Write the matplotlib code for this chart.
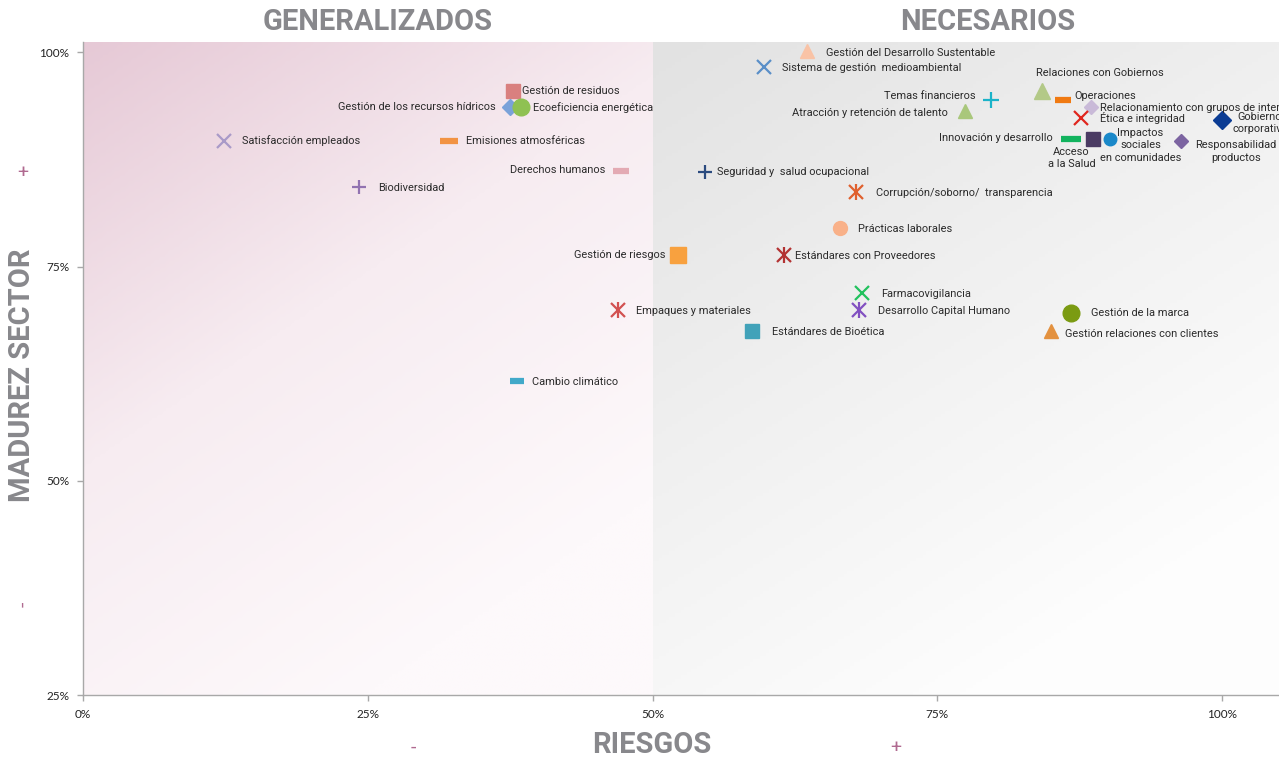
import numpy as np
import matplotlib
matplotlib.use("Agg")
import matplotlib.pyplot as plt
from matplotlib.colors import LinearSegmentedColormap

plt.rcParams['font.family'] = ['Roboto', 'DejaVu Sans']

# ---------------- data ----------------
labels = [
    "Gestión del Desarrollo Sustentable", "Sistema de gestión  medioambiental",
    "Relaciones con Gobiernos", "Temas financieros", "Operaciones",
    "Relacionamiento con grupos de interés", "Atracción y retención de talento",
    "Ética e integridad", "Gobierno\ncorporativo", "Innovación y desarrollo",
    "Acceso\na la Salud", "Impactos\nsociales\nen comunidades",
    "Responsabilidad\nproductos", "Gestión de residuos",
    "Gestión de los recursos hídricos", "Ecoeficiencia energética",
    "Satisfacción empleados", "Emisiones atmosféricas", "Derechos humanos",
    "Biodiversidad", "Seguridad y  salud ocupacional",
    "Corrupción/soborno/  transparencia", "Prácticas laborales",
    "Gestión de riesgos", "Estándares con Proveedores", "Farmacovigilancia",
    "Desarrollo Capital Humano", "Empaques y materiales",
    "Estándares de Bioética", "Gestión de la marca",
    "Gestión relaciones con clientes", "Cambio climático",
]
riesgos = [63.6, 59.8, 84.2, 79.7, 86.0, 88.5, 77.4, 87.6, 100.0, 86.7,
           88.7, 90.2, 96.4, 37.75, 37.5, 38.45, 12.4, 32.1, 47.2, 24.2,
           54.6, 67.9, 66.5, 52.2, 61.5, 68.4, 68.1, 47.0, 58.7, 86.7,
           85.0, 38.1]
madurez = [100.2, 98.25, 95.45, 94.4, 94.4, 93.6, 93.1, 92.3, 92.1, 89.85,
           89.85, 89.85, 89.7, 95.45, 93.6, 93.6, 89.7, 89.7, 86.1, 84.25,
           86.0, 83.7, 79.5, 76.4, 76.4, 71.9, 69.9, 69.9, 67.45, 69.55,
           67.45, 61.6]
x_ticks = [0, 25, 50, 75, 100]
y_ticks = [25, 50, 75, 100]
tick_fmt = "{}%"

# ---------------- styles ----------------
# (marker, color, size)
styles = [
    ("^", "#f9c3a6", 10), ("x", "#5a8fc8", 10), ("^", "#b3c987", 11),
    ("+", "#1bb3c9", 11), ("_", "#f07a12", 12), ("D", "#c9bad8", 7),
    ("^", "#a9c77b", 10), ("x", "#e0261e", 10), ("D", "#0b3c94", 9),
    ("_", "#12b35e", 15), ("s", "#4b3b63", 10), ("o", "#1a88c9", 9),
    ("D", "#7c64a1", 7), ("s", "#d9807f", 10), ("D", "#7aa2d9", 8),
    ("o", "#8fc152", 12), ("x", "#a99ac8", 10), ("_", "#f29343", 13),
    ("_", "#e3aab3", 12), ("+", "#9273b1", 10), ("+", "#2b4b7f", 10),
    ("*a", "#e0602e", 10), ("o", "#f9b189", 10), ("s", "#f8a13f", 11),
    ("*a", "#b33333", 10), ("x", "#22c25e", 10), ("*a", "#8251c1", 10),
    ("*a", "#d25151", 10), ("s", "#41a2b9", 10), ("o", "#7b9b12", 12),
    ("^", "#e3913f", 10), ("_", "#41a9c9", 10),
]
# label placement: (dx px, dy px, ha, va)
place = [
    (19, -2, "left", "center"), (18, -1, "left", "center"),
    (-6, 18, "left", "center"), (-15, 4, "right", "center"),
    (12, 4, "left", "center"), (9, -1, "left", "center"),
    (-17, -2, "right", "center"), (19, 0, "left", "center"),
    (10, -3, "left", "center"), (-18, 1, "right", "center"),
    (-22, -19, "center", "center"), (30, -6, "center", "center"),
    (14, -11, "left", "center"), (9, 0, "left", "center"),
    (-14, 0, "right", "center"), (12, 0, "left", "center"),
    (18, 0, "left", "center"), (17, 0, "left", "center"),
    (-15, 1, "right", "center"), (19, -1, "left", "center"),
    (12, 0, "left", "center"), (20, -1, "left", "center"),
    (18, -1, "left", "center"), (-12, 0, "right", "center"),
    (11, -1, "left", "center"), (19, -1, "left", "center"),
    (19, -1, "left", "center"), (18, -1, "left", "center"),
    (20, -1, "left", "center"), (20, 0, "left", "center"),
    (14, -3, "left", "center"), (15, -1, "left", "center"),
]

fig = plt.figure(figsize=(12.79, 7.58), dpi=100)
ax = fig.add_axes([83 / 1279, 63 / 758, 1196 / 1279, 653 / 758])
xmin, xmax, ymin, ymax = 0, 105, 25, 101.2
ax.set_xlim(xmin, xmax)
ax.set_ylim(ymin, ymax)

# gradient backgrounds
gx, gy = np.meshgrid(np.linspace(0, 1, 200), np.linspace(0, 1, 200))
g = np.clip((gx * 0.6 + gy * 1.0) / 1.3, 0, 1)  # 0 top-left -> 1 bottom-right
pink = LinearSegmentedColormap.from_list("p", ["#e6c9d6", "#f7ecf1", "#fdf9fb"])
grey = LinearSegmentedColormap.from_list("g", ["#e2e2e2", "#f0f0f0", "#fdfdfd"])
ax.imshow(g, cmap=pink, extent=[0, 50, ymin, ymax], origin="upper",
          aspect="auto", zorder=0, vmin=0, vmax=1)
ax.imshow(g, cmap=grey, extent=[50, xmax, ymin, ymax], origin="upper",
          aspect="auto", zorder=0, vmin=0, vmax=1)

for i, lab in enumerate(labels):
    m, c, s = styles[i]
    if m == "*a":
        ax.plot(riesgos[i], madurez[i], marker="x", ms=s * 0.95, mew=1.6,
                color=c, ls="none", zorder=3)
        ax.plot(riesgos[i], madurez[i], marker="|", ms=s * 1.15, mew=1.6,
                color=c, ls="none", zorder=3)
    elif m in ("x", "+", "_"):
        mew = 1.6 if m != "_" else 4.5
        ax.plot(riesgos[i], madurez[i], marker=m, ms=s, mew=mew, color=c,
                ls="none", zorder=3)
    else:
        ax.plot(riesgos[i], madurez[i], marker=m, ms=s, color=c, mec=c,
                ls="none", zorder=3)
    dx, dy, ha, va = place[i]
    ax.annotate(lab, (riesgos[i], madurez[i]), xytext=(dx, dy),
                textcoords="offset pixels", ha=ha, va=va, fontsize=7.9,
                color="#2b2b2b", multialignment="center", linespacing=1.28,
                zorder=4, annotation_clip=False)

for sp in ("top", "right"):
    ax.spines[sp].set_visible(False)
for sp in ("left", "bottom"):
    ax.spines[sp].set_color("#a8a8a8")
    ax.spines[sp].set_linewidth(1.0)
ax.set_xticks(x_ticks)
ax.set_yticks(y_ticks)
ax.set_xticklabels([tick_fmt.format(t) for t in x_ticks], fontsize=8.5,
                   family=["Lato", "DejaVu Sans"])
ax.set_yticklabels([tick_fmt.format(t) for t in y_ticks], fontsize=8.5,
                   family=["Lato", "DejaVu Sans"])
ax.tick_params(axis="both", colors="#a8a8a8", labelcolor="#222222",
               length=4, width=1)
ax.tick_params(axis="x", pad=6)
ax.tick_params(axis="y", pad=6)

title_kw = dict(fontsize=21, fontweight="bold", color="#88888c",
                ha="center", va="center")
fig.text(378 / 1279, 1 - 22 / 758, "GENERALIZADOS", **title_kw)
fig.text(988 / 1279, 1 - 22 / 758, "NECESARIOS", **title_kw)
fig.text(652 / 1279, 1 - 745 / 758, "RIESGOS", **title_kw)
fig.text(22 / 1279, 1 - 375 / 758, "MADUREZ SECTOR", rotation=90, **title_kw)
sign_kw = dict(fontsize=14, color="#b06a90", ha="center", va="center")
fig.text(23 / 1279, 1 - 173 / 758, "+", **sign_kw)
fig.text(23 / 1279, 1 - 604 / 758, "-", rotation=90, **sign_kw)
fig.text(413 / 1279, 1 - 748 / 758, "-", **sign_kw)
fig.text(896 / 1279, 1 - 748 / 758, "+", **sign_kw)

fig.savefig("out.png", dpi=100, facecolor="white")
